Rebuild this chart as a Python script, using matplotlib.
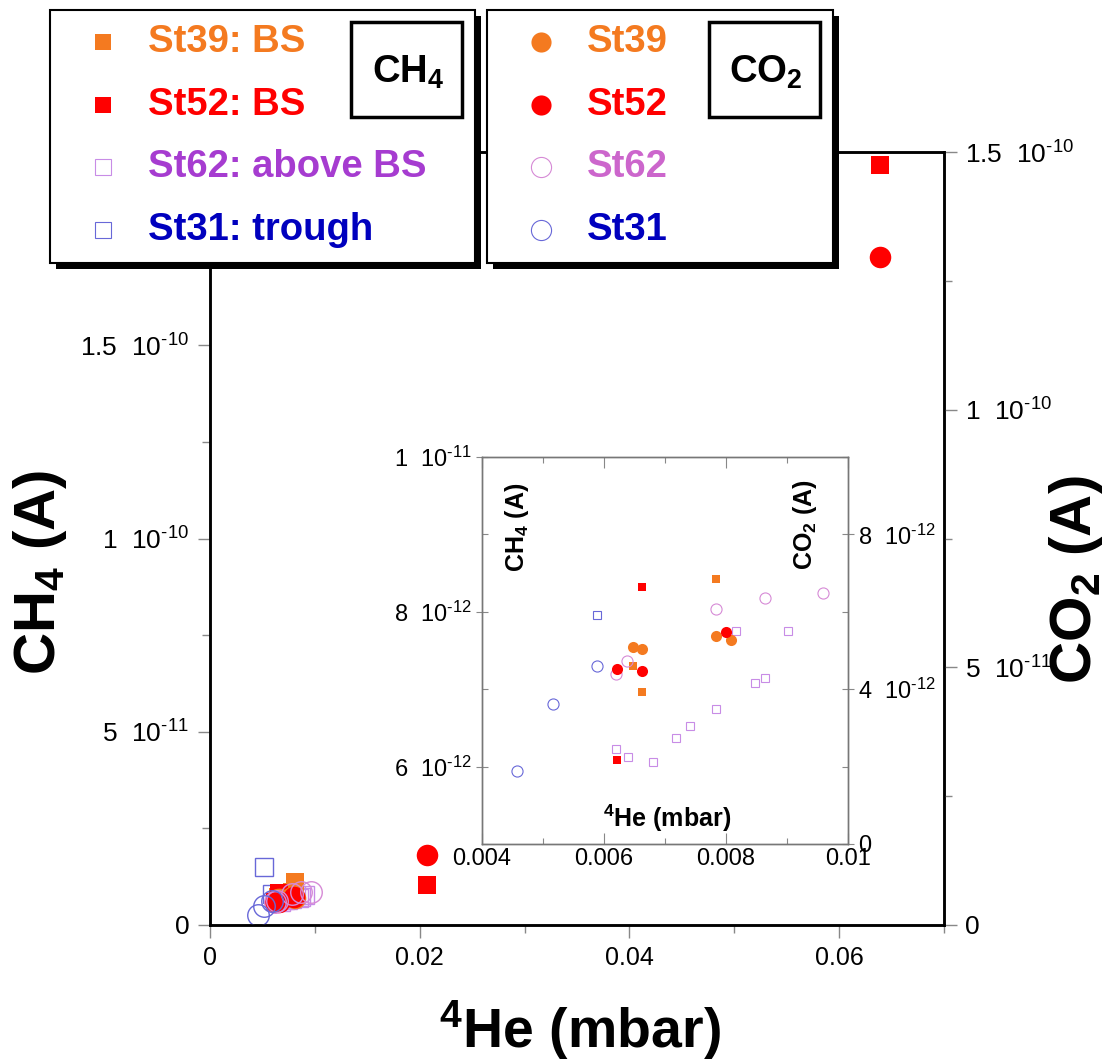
import matplotlib
matplotlib.use("Agg")
import matplotlib.pyplot as plt
from matplotlib.patches import Rectangle
from matplotlib.ticker import MultipleLocator

plt.rcParams['font.family'] = ['Liberation Sans', 'DejaVu Sans']
plt.rcParams['mathtext.fontset'] = 'custom'
plt.rcParams['mathtext.rm'] = 'Liberation Sans'
plt.rcParams['mathtext.bf'] = 'Liberation Sans:bold'
plt.rcParams['mathtext.it'] = 'Liberation Sans:italic'
plt.rcParams['mathtext.sf'] = 'Liberation Sans'

# ==========================================
# Data
# ==========================================
# CH4 (squares), left axis
st39_ch4_he = [0.00648, 0.00663, 0.00783, 0.00807]
st39_ch4 = [7.30e-12, 6.97e-12, 8.43e-12, 1.10e-11]
st52_ch4_he = [0.00621, 0.00662, 0.02074, 0.0639]
st52_ch4 = [6.08e-12, 8.32e-12, 1.04e-11, 1.967e-10]
st62_ch4_he = [0.00620, 0.00639, 0.00681, 0.00718, 0.00741, 0.00783,
               0.00848, 0.00864, 0.00816, 0.00902]
st62_ch4 = [6.23e-12, 6.12e-12, 6.06e-12, 6.37e-12, 6.53e-12, 6.74e-12,
            7.08e-12, 7.14e-12, 7.75e-12, 7.75e-12]
st31_ch4_he = [0.00518, 0.00588]
st31_ch4 = [1.49e-11, 7.96e-12]

# CO2 (circles), right axis
st39_co2_he = [0.00648, 0.00663, 0.00783, 0.00808]
st39_co2 = [5.09e-12, 5.03e-12, 5.38e-12, 5.28e-12]
st52_co2_he = [0.00621, 0.00662, 0.00800, 0.02074, 0.0639]
st52_co2 = [4.52e-12, 4.47e-12, 5.48e-12, 1.36e-11, 1.296e-10]
st62_co2_he = [0.00620, 0.00638, 0.00783, 0.00864, 0.00959]
st62_co2 = [4.40e-12, 4.73e-12, 6.07e-12, 6.36e-12, 6.49e-12]
st31_co2_he = [0.00458, 0.00516, 0.00588]
st31_co2 = [1.88e-12, 3.61e-12, 4.59e-12]

# tick positions / labels
x_ticks = [0, 0.02, 0.04, 0.06]
x_ticklabels = ['0', '0.02', '0.04', '0.06']
ch4_ticks = [0, 5e-11, 1e-10, 1.5e-10]
ch4_ticklabels = ['0', r'5  10$^{\text{-11}}$', r'1  10$^{\text{-10}}$',
                  r'1.5  10$^{\text{-10}}$']
co2_ticks = [0, 5e-11, 1e-10, 1.5e-10]
co2_ticklabels = ['0', r'5  10$^{\text{-11}}$', r'1  10$^{\text{-10}}$',
                  r'1.5  10$^{\text{-10}}$']
in_x_ticks = [0.004, 0.006, 0.008, 0.01]
in_x_ticklabels = ['0.004', '0.006', '0.008', '0.01']
in_ch4_ticks = [6e-12, 8e-12, 1e-11]
in_ch4_ticklabels = [r'6  10$^{\text{-12}}$', r'8  10$^{\text{-12}}$',
                     r'1  10$^{\text{-11}}$']
in_co2_ticks = [0, 4e-12, 8e-12]
in_co2_ticklabels = ['0', r'4  10$^{\text{-12}}$', r'8  10$^{\text{-12}}$']

ch4_legend = ['St39: BS', 'St52: BS', 'St62: above BS', 'St31: trough']
co2_legend = ['St39', 'St52', 'St62', 'St31']

# colours
ORANGE = '#F47A20'
RED = '#FF0000'
VIOLET_SQ = '#C88CE6'
VIOLET_CI = '#D68AD6'
BLUE_MK = '#6868D8'
TXT_VIOLET = '#A63CD0'
TXT_PINK = '#CC66CC'
TXT_BLUE = '#0000BE'
TICK_GRAY = '#888888'

W, H = 1110, 1063


def fx(px):
    return px / W


def fy(py):
    return 1 - py / H


fig = plt.figure(figsize=(W / 100, H / 100), dpi=100)

# ==========================================
# Main axes
# ==========================================
ax = fig.add_axes([fx(210), fy(925), fx(944) - fx(210), fy(152) - fy(925)])
ax2 = ax.twinx()

ax.set_xlim(0, 0.07)
ax.set_ylim(0, 2e-10)
ax2.set_ylim(0, 1.5e-10)

ax.set_xticks(x_ticks)
ax.set_xticklabels(x_ticklabels)
ax.xaxis.set_minor_locator(MultipleLocator(0.01))
ax.set_yticks(ch4_ticks)
ax.set_yticklabels(ch4_ticklabels)
ax.yaxis.set_minor_locator(MultipleLocator(2.5e-11))
ax2.set_yticks(co2_ticks)
ax2.set_yticklabels(co2_ticklabels)
ax2.yaxis.set_minor_locator(MultipleLocator(2.5e-11))

for a in (ax, ax2):
    a.tick_params(which='major', direction='out', length=9, width=1,
                  color=TICK_GRAY, pad=6)
    a.tick_params(which='minor', direction='out', length=6, width=1,
                  color=TICK_GRAY)
    for s in a.spines.values():
        s.set_linewidth(1.8)
ax.tick_params(axis='x', labelsize=18)
ax.tick_params(axis='y', labelsize=19)
ax2.tick_params(axis='y', labelsize=19)

big_sq = dict(linestyle='none', marker='s', markersize=13)
big_ci = dict(linestyle='none', marker='o', markersize=15.5)

ax.plot(st62_ch4_he, st62_ch4, mfc='none', mec=VIOLET_SQ, mew=1.0, **big_sq)
ax.plot(st31_ch4_he, st31_ch4, mfc='none', mec=BLUE_MK, mew=1.0, **big_sq)
ax.plot(st39_ch4_he, st39_ch4, color=ORANGE, mew=0, **big_sq)
ax.plot(st52_ch4_he, st52_ch4, color=RED, mew=0, **big_sq)

ax2.plot(st39_co2_he, st39_co2, color=ORANGE, mew=0, **big_ci)
ax2.plot(st52_co2_he, st52_co2, color=RED, mew=0, **big_ci)
ax2.plot(st62_co2_he, st62_co2, mfc='none', mec=VIOLET_CI, mew=1.0, **big_ci)
ax2.plot(st31_co2_he, st31_co2, mfc='none', mec=BLUE_MK, mew=1.0, **big_ci)

ylab = dict(fontsize=42, fontweight='bold', ha='center', va='center', rotation=90)
fig.text(fx(40), fy(572), r'CH$_{\mathbf{4}}$ (A)', **ylab)
fig.text(fx(1076), fy(580), r'CO$_{\mathbf{2}}$ (A)', **ylab)
fig.text(fx(580), fy(1030), r'$^{\mathbf{4}}$He (mbar)', fontsize=40,
         fontweight='bold', ha='center', va='center')

# ==========================================
# Inset
# ==========================================
axin = fig.add_axes([fx(482), fy(844), fx(848) - fx(482), fy(457) - fy(844)])
axin2 = axin.twinx()

axin.set_xlim(0.004, 0.01)
axin.set_ylim(5e-12, 1e-11)
axin2.set_ylim(0, 1e-11)

axin.set_xticks(in_x_ticks)
axin.set_xticklabels(in_x_ticklabels)
axin.xaxis.set_minor_locator(MultipleLocator(0.001))
axin.set_yticks(in_ch4_ticks)
axin.set_yticklabels(in_ch4_ticklabels)
axin.yaxis.set_minor_locator(MultipleLocator(1e-12))
axin2.set_yticks(in_co2_ticks)
axin2.set_yticklabels(in_co2_ticklabels)
axin2.yaxis.set_minor_locator(MultipleLocator(2e-12))

for a in (axin, axin2):
    a.tick_params(which='major', direction='inout', length=8, width=0.8,
                  color=TICK_GRAY, labelsize=17, pad=3)
    a.tick_params(which='minor', direction='in', length=4, width=0.8,
                  color=TICK_GRAY)
    for s in a.spines.values():
        s.set_linewidth(1.0)
        s.set_color('#777777')
axin.tick_params(axis='x', which='both', direction='in', top=True)

sm_sq = dict(linestyle='none', marker='s', markersize=6)
sm_ci = dict(linestyle='none', marker='o', markersize=8)

axin.plot(st62_ch4_he, st62_ch4, mfc='none', mec=VIOLET_SQ, mew=0.8, **sm_sq)
axin.plot(st31_ch4_he, st31_ch4, mfc='none', mec=BLUE_MK, mew=0.8, **sm_sq)
axin.plot(st39_ch4_he, st39_ch4, color=ORANGE, mew=0, **sm_sq)
axin.plot(st52_ch4_he, st52_ch4, color=RED, mew=0, **sm_sq)

axin2.plot(st62_co2_he, st62_co2, mfc='none', mec=VIOLET_CI, mew=0.8, **sm_ci)
axin2.plot(st31_co2_he, st31_co2, mfc='none', mec=BLUE_MK, mew=0.8, **sm_ci)
axin2.plot(st39_co2_he, st39_co2, color=ORANGE, mew=0, **sm_ci)
axin2.plot(st52_co2_he, st52_co2, color=RED, mew=0, **sm_ci)

inlab = dict(fontsize=18, fontweight='bold', ha='center', va='center')
fig.text(fx(517), fy(527), r'CH$_{\mathbf{4}}$ (A)', rotation=90, **inlab)
fig.text(fx(805), fy(525), r'CO$_{\mathbf{2}}$ (A)', rotation=90, **inlab)
fig.text(fx(667), fy(818), r'$^{\mathbf{4}}$He (mbar)', **inlab)

# ==========================================
# Legend boxes (pixel overlay)
# ==========================================
ov = fig.add_axes([0, 0, 1, 1], zorder=10)
ov.set_xlim(0, W)
ov.set_ylim(H, 0)
ov.axis('off')


def legend_box(x0, w, marker_x, text_x, labels, text_colors, handles, tag):
    y0, h = 10, 253
    ov.add_patch(Rectangle((x0 + 6, y0 + 6), w, h, facecolor='black', edgecolor='none'))
    ov.add_patch(Rectangle((x0, y0), w, h, facecolor='white', edgecolor='black', lw=1.5))
    rows = [42, 105, 167, 230]
    for yy, lbl, tc, hd in zip(rows, labels, text_colors, handles):
        ov.plot([marker_x], [yy], linestyle='none', **hd)
        ov.text(text_x, yy, lbl, color=tc, fontsize=27.5, fontweight='bold',
                ha='left', va='center')
    bx = x0 + w - 124
    ov.add_patch(Rectangle((bx, 22), 111, 95, facecolor='none', edgecolor='black', lw=2.5))
    ov.text(bx + 57, 72, tag, fontsize=27.5, fontweight='bold', ha='center', va='center')


sq_handles = [
    dict(marker='s', markersize=12, color=ORANGE, mew=0),
    dict(marker='s', markersize=12, color=RED, mew=0),
    dict(marker='s', markersize=12, mfc='none', mec=VIOLET_SQ, mew=0.8),
    dict(marker='s', markersize=12, mfc='none', mec=BLUE_MK, mew=0.8),
]
ci_handles = [
    dict(marker='o', markersize=14.5, color=ORANGE, mew=0),
    dict(marker='o', markersize=14.5, color=RED, mew=0),
    dict(marker='o', markersize=14.5, mfc='none', mec=VIOLET_CI, mew=0.8),
    dict(marker='o', markersize=14.5, mfc='none', mec=BLUE_MK, mew=0.8),
]

legend_box(50, 425, 103, 148, ch4_legend, [ORANGE, RED, TXT_VIOLET, TXT_BLUE],
           sq_handles, r'CH$_{\mathbf{4}}$')
legend_box(487, 346, 541, 587, co2_legend, [ORANGE, RED, TXT_PINK, TXT_BLUE],
           ci_handles, r'CO$_{\mathbf{2}}$')

fig.savefig('out.png', dpi=100)
